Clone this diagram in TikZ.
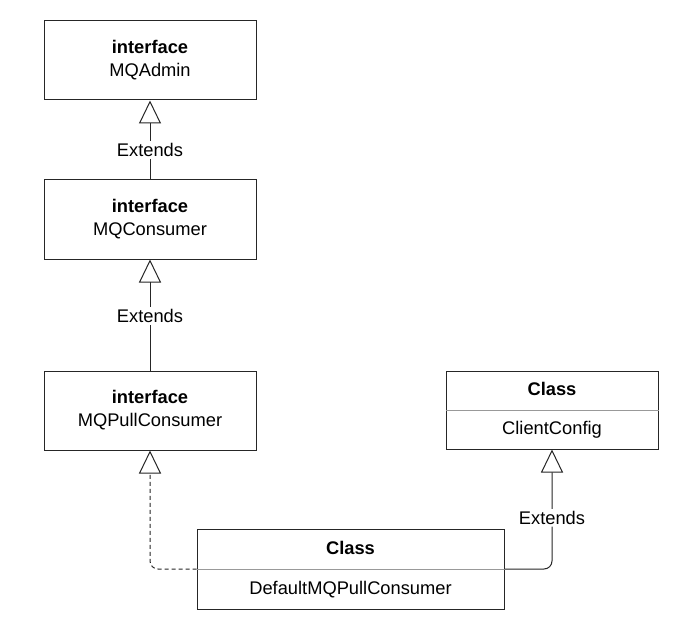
\documentclass[tikz,border=0pt]{standalone}
\usepackage{fontspec}
\setmainfont{Liberation Sans}
\usetikzlibrary{arrows.meta}
\tikzset{
  box/.style={draw=black!85, line width=1pt, fill=white, inner sep=0pt, align=center, font=\fontsize{18.3pt}{23pt}\selectfont},
  txt/.style={inner sep=0pt, font=\fontsize{18.3pt}{23pt}\selectfont},
  sep/.style={draw=black!40, line width=1pt},
  conn/.style={draw=black!85, line width=1pt, -{Triangle[open, length=23pt, width=22pt, line width=1pt]}},
  lbl/.style={fill=white, inner sep=2pt, font=\fontsize{18.3pt}{23pt}\selectfont}
}
\begin{document}
\begin{tikzpicture}[x=1pt,y=-1pt]
\useasboundingbox (0,0) rectangle (698,636);
\fill[white] (0,0) rectangle (698,636);
% interface boxes
\node[box, minimum width=212pt, minimum height=79pt] (admin) at (150,60.5) {\textbf{interface}\\MQAdmin};
\node[box, minimum width=212pt, minimum height=79pt] (cons) at (150,219.5) {\textbf{interface}\\MQConsumer};
\node[box, minimum width=212pt, minimum height=79pt] (pull) at (150,410.5) {\textbf{interface}\\MQPullConsumer};
% class boxes
\node[box, minimum width=212pt, minimum height=78pt] (cc) at (552,410) {};
\draw[sep] (cc.west) -- (cc.east);
\node[txt] (cctitle) at (552,389) {\textbf{Class}};
\node[txt] (ccname) at (552,430) {ClientConfig};
\node[box, minimum width=307pt, minimum height=80pt] (def) at (350.5,569) {};
\draw[sep] (def.west) -- (def.east);
\node[txt] (deftitle) at (350.5,548) {\textbf{Class}};
\node[txt] (defname) at (350.5,590) {DefaultMQPullConsumer};
% connectors
\draw[conn] (cons.north) -- node[lbl, pos=0.375] {Extends} (admin.south);
\draw[conn] (pull.north) -- node[lbl, pos=0.49] {Extends} (cons.south);
\draw[conn, dash pattern=on 4pt off 3pt, rounded corners=8pt] (def.west) -| (pull.south);
\draw[conn, rounded corners=8pt] (def.east) -| node[lbl, pos=0.714] {Extends} (cc.south);
\end{tikzpicture}
\end{document}
